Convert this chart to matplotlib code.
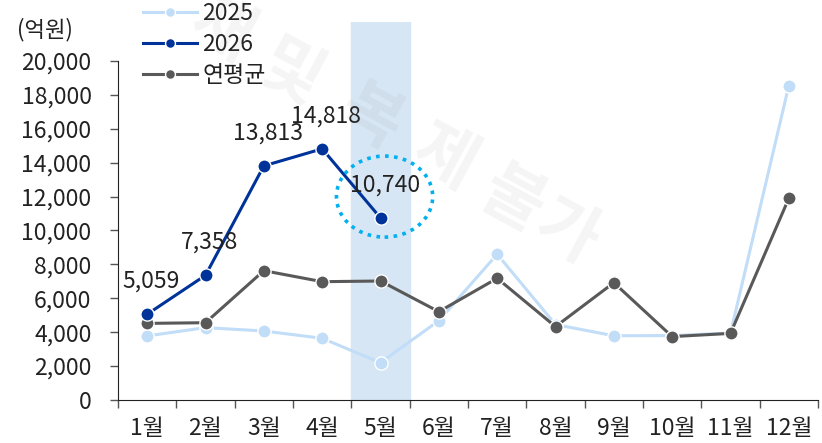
import numpy as np
import matplotlib.pyplot as plt
from matplotlib.patches import Ellipse

plt.rcParams['font.family'] = ['Noto Sans CJK KR', 'DejaVu Sans']

months = ["1월", "2월", "3월", "4월", "5월", "6월", "7월", "8월", "9월", "10월", "11월", "12월"]
y2025 = [3780, 4270, 4070, 3640, 2200, 4680, 8600, 4450, 3790, 3800, 3950, 18550]
y2026 = [5059, 7358, 13813, 14818, 10740]
avg = [4520, 4560, 7630, 6980, 7020, 5210, 7180, 4330, 6920, 3740, 3930, 11900]

c2025 = "#c2ddf8"
c2026 = "#003399"
cavg = "#595959"
txt = "#222222"

W, H = 822, 443
fig = plt.figure(figsize=(W / 100, H / 100), dpi=100)
ax = fig.add_axes([118 / W, 43 / H, 700 / W, 378 / H])

x = np.arange(len(months))
x26 = np.arange(len(y2026))

# 강조 구간 (5월)
ax.axvspan(3.5, 4.5, color="#d7e6f4", zorder=0)

ax.plot(x, y2025, color=c2025, lw=2.2, marker="o", ms=9.5, mec="white", mew=1, label="2025", zorder=3)
ax.plot(x, avg, color=cavg, lw=2.2, marker="o", ms=9.5, mec="white", mew=1, label="연평균", zorder=4)
ax.plot(x26, y2026, color=c2026, lw=2.2, marker="o", ms=9.5, mec="white", mew=1, label="2026", zorder=5)

# 데이터 레이블
for i, v in enumerate(y2026):
    ax.text(x26[i] + 0.07, v + 1950, f"{v:,}", fontsize=16.5,
            color=txt, ha="center", va="center", zorder=6)

# 점선 원
ax.add_patch(Ellipse((4.07, 12000), 1.65, 4780, fill=False, ec="#00b0f0",
                     lw=2.6, ls=(0, (1, 1.5)), zorder=7))

ax.set_xlim(-0.5, 11.5)
ax.set_ylim(0, 22300)
yt = np.arange(0, 20001, 2000)
ax.set_yticks(yt)
ax.set_yticklabels([f"{t:,}" for t in yt])
ax.set_xticks(np.arange(-0.5, 12, 1))
ax.set_xticklabels([])
ax.set_xticks(x, minor=True)
ax.set_xticklabels(months, minor=True)
ax.tick_params(axis="x", which="major", length=6, width=1, color="#555555")
ax.tick_params(axis="x", which="minor", length=0, pad=12, labelsize=16.5)
ax.tick_params(axis="y", length=6, width=1, labelsize=16.5, pad=13, color="#555555")
for lab in ax.get_yticklabels() + ax.get_xticklabels(minor=True):
    lab.set_color(txt)

for s in ["top", "right"]:
    ax.spines[s].set_visible(False)
ax.spines["left"].set_bounds(0, 20000)
ax.spines["left"].set_color(txt)
ax.spines["bottom"].set_color(txt)

fig.text(17 / W, 1 - 30 / H, "(억원)", fontsize=16, color=txt, va="center")

h, l = ax.get_legend_handles_labels()
order = [0, 2, 1]
leg = fig.legend([h[i] for i in order], [l[i] for i in order], loc="upper left",
                 bbox_to_anchor=(143 / W, 1 - 2 / H), frameon=False, fontsize=16.5,
                 borderpad=0, borderaxespad=0, handlelength=2.35, markerscale=0.75,
                 labelspacing=0.34, handletextpad=0.25)
for t in leg.get_texts():
    t.set_color(txt)

# 워터마크
wm = ["재", "및", "복", "제", "불", "가"]
wm_xy = [(222, 30), (290, 75), (370, 118), (445, 158), (512, 200), (567, 233)]
for ch, (px, py) in zip(wm, wm_xy):
    fig.text(px / W, 1 - py / H, ch, fontsize=48, fontweight="bold", color="#808080",
             alpha=0.08, rotation=-28.5, ha="center", va="center", zorder=10)

fig.savefig("out.png", dpi=100)
